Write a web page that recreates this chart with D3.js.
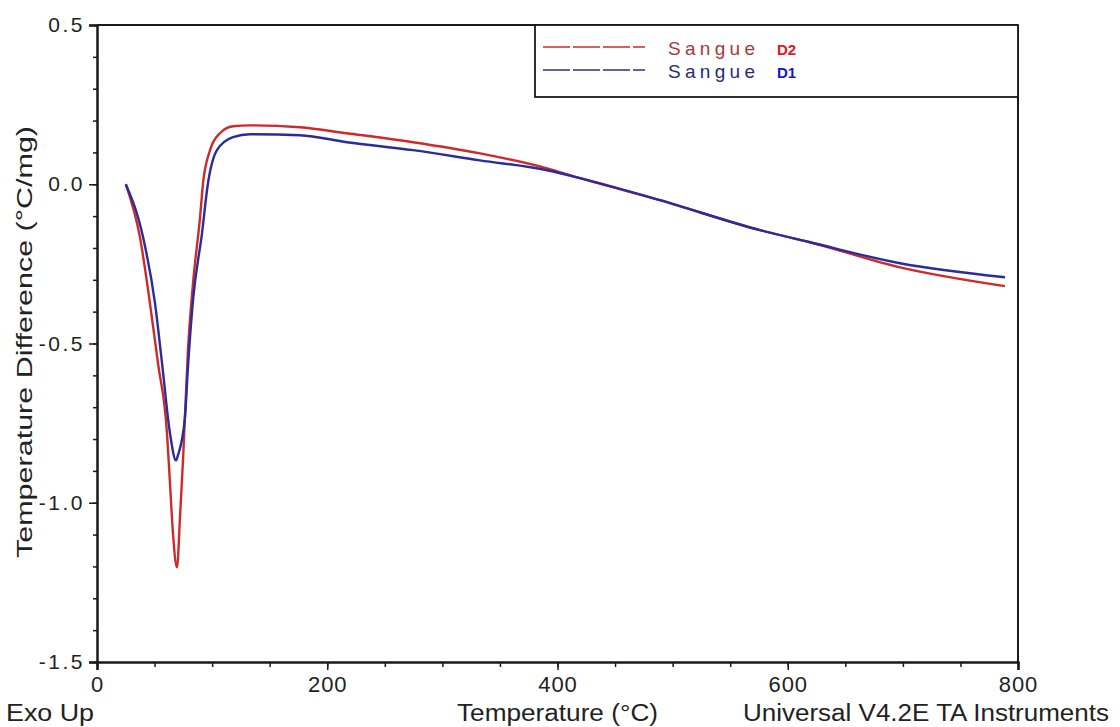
<!DOCTYPE html>
<html><head><meta charset="utf-8">
<script src="https://cdn.jsdelivr.net/npm/d3@7"></script>
<style>
html,body{margin:0;padding:0;background:#fff;}
svg{display:block;font-family:"Liberation Sans",Arial,sans-serif;}
</style></head>
<body>
<svg id="chart" width="1120" height="727"></svg>
<script>
// Data (temperature °C, temperature difference °C/mg)
const tempD2 = [25, 37.3, 46, 53, 60.8, 63.4, 66, 69.5, 72.1, 74.7, 79, 83.4, 89.5, 92.1, 98.2, 106.8, 118.1, 132.9, 176.3, 217.1, 274.5, 332.7, 390.9, 419.5, 489, 575.9, 619.3, 697.5, 788.7];
const valD2  = [0, -0.166, -0.374, -0.562, -0.782, -0.939, -1.096, -1.203, -1.045, -0.867, -0.521, -0.311, -0.104, 0.003, 0.107, 0.160, 0.182, 0.185, 0.179, 0.160, 0.132, 0.097, 0.050, 0.019, -0.050, -0.144, -0.182, -0.261, -0.320];
const tempD1 = [25, 40, 50.4, 56.5, 63.4, 68.6, 70.4, 76.4, 79, 83.4, 91.2, 96.4, 104.2, 118.1, 132.9, 176.3, 217.1, 274.5, 332.7, 390.9, 419.5, 489, 575.9, 619.3, 697.5, 788.7];
const valD1  = [0, -0.166, -0.374, -0.562, -0.782, -0.867, -0.85, -0.732, -0.575, -0.364, -0.154, 0.003, 0.107, 0.148, 0.157, 0.154, 0.132, 0.107, 0.075, 0.044, 0.019, -0.050, -0.144, -0.182, -0.248, -0.292];
const seriesNames = ["Sangue", "Sangue"];
const seriesTags = ["D2", "D1"];
const xTickValues = [0, 200, 400, 600, 800];
const yTickValues = [0.5, 0.0, -0.5, -1.0, -1.5];

(function () {
const svg = d3.select("#chart");
const pL = 97, pR = 1018, pT = 25, pB = 662;
const x = d3.scaleLinear().domain([0, 800]).range([pL, pR]);
const y = d3.scaleLinear().domain([-1.5, 0.5]).range([pB, pT]);
const axisColor = "#1a1a1a";

// frame (top and right)
svg.append("line").attr("x1", pL).attr("x2", pR).attr("y1", pT).attr("y2", pT).attr("stroke", axisColor).attr("stroke-width", 2);
svg.append("line").attr("x1", pR).attr("x2", pR).attr("y1", pT).attr("y2", pB).attr("stroke", axisColor).attr("stroke-width", 2);

// Y axis
const yMinor = d3.range(-15, 6).map(d => d / 10);
const yAx = svg.append("g").attr("transform", `translate(${pL},0)`);
yAx.call(d3.axisLeft(y).tickValues(yMinor).tickSize(4).tickFormat(""));
yAx.call(g => g.select(".domain").remove());
yAx.selectAll(".tick line").attr("stroke", axisColor).attr("stroke-width", 1.5);
const yMaj = svg.append("g").attr("transform", `translate(${pL},0)`);
yMaj.call(d3.axisLeft(y).tickValues(yTickValues).tickSize(8).tickPadding(4).tickFormat(d3.format(".1f")));
yMaj.select(".domain").attr("stroke", axisColor).attr("stroke-width", 2.5);
yMaj.selectAll(".tick line").attr("stroke", axisColor).attr("stroke-width", 1.5);
yMaj.selectAll(".tick text").attr("font-size", 21).attr("fill", "#222").attr("letter-spacing", "2.5px")
  .attr("font-family", "Liberation Sans, Arial, sans-serif").text(d => d3.format(".1f")(d).replace("−", "-"));

// X axis
const xMinor = d3.range(0, 801, 50);
const xAx = svg.append("g").attr("transform", `translate(0,${pB})`);
xAx.call(d3.axisBottom(x).tickValues(xMinor).tickSize(5).tickFormat(""));
xAx.call(g => g.select(".domain").remove());
xAx.selectAll(".tick line").attr("stroke", axisColor).attr("stroke-width", 1.5);
const xMaj = svg.append("g").attr("transform", `translate(0,${pB})`);
xMaj.call(d3.axisBottom(x).tickValues(xTickValues).tickSize(8).tickPadding(6).tickFormat(d3.format("d")));
xMaj.select(".domain").attr("stroke", axisColor).attr("stroke-width", 2.5);
xMaj.selectAll(".tick line").attr("stroke", axisColor).attr("stroke-width", 1.5);
xMaj.selectAll(".tick text").attr("font-size", 22).attr("fill", "#222").attr("letter-spacing", "1px")
  .attr("font-family", "Liberation Sans, Arial, sans-serif");

// curves
const line = d3.line().x(d => x(d[0])).y(d => y(d[1])).curve(d3.curveMonotoneX);
const dD2 = tempD2.map((t, i) => [t, valD2[i]]);
const dD1 = tempD1.map((t, i) => [t, valD1[i]]);
const colRed = "#cf2a2a", colBlue = "#2b2b9c";
svg.append("path").datum(dD2).attr("d", line).attr("fill", "none").attr("stroke", colRed).attr("stroke-width", 2.4);
svg.append("path").datum(dD1).attr("d", line).attr("fill", "none").attr("stroke", colBlue).attr("stroke-width", 2.4);

// legend
svg.append("rect").attr("x", 535).attr("y", pT).attr("width", pR - 535).attr("height", 72)
  .attr("fill", "#fff").attr("stroke", axisColor).attr("stroke-width", 1.8);
const legY = [47, 70];
const legCol = [colRed, colBlue];
const nameCol = ["#a83838", "#2a2a7a"];
const tagCol = ["#e8141c", "#1414d0"];
seriesNames.forEach((n, i) => {
  svg.append("line").attr("x1", 543).attr("x2", 645).attr("y1", legY[i]).attr("y2", legY[i])
    .attr("stroke", legCol[i]).attr("stroke-width", 1.5).attr("stroke-dasharray", "27,3");
  svg.append("text").attr("x", 668).attr("y", legY[i] + 8).attr("font-size", 19)
    .attr("fill", nameCol[i]).attr("textLength", 87).attr("lengthAdjust", "spacing").text(n);
  svg.append("text").attr("x", 777).attr("y", legY[i] + 8).attr("font-size", 15).attr("font-weight", "bold")
    .attr("fill", tagCol[i]).text(seriesTags[i]);
});

// axis labels
svg.append("text").attr("transform", "translate(32,342) rotate(-90)").attr("text-anchor", "middle")
  .attr("font-size", 22).attr("fill", "#222").attr("textLength", 432).attr("lengthAdjust", "spacingAndGlyphs")
  .text("Temperature Difference (°C/mg)");
svg.append("text").attr("x", 457).attr("y", 721).attr("font-size", 23).attr("fill", "#222")
  .attr("textLength", 201).attr("lengthAdjust", "spacingAndGlyphs").text("Temperature (°C)");
svg.append("text").attr("x", 6).attr("y", 721).attr("font-size", 23).attr("fill", "#222")
  .attr("textLength", 88).attr("lengthAdjust", "spacingAndGlyphs").text("Exo Up");
svg.append("text").attr("x", 743).attr("y", 721).attr("font-size", 23).attr("fill", "#222")
  .attr("textLength", 366).attr("lengthAdjust", "spacingAndGlyphs").text("Universal V4.2E TA Instruments");
})();
</script>
</body></html>
